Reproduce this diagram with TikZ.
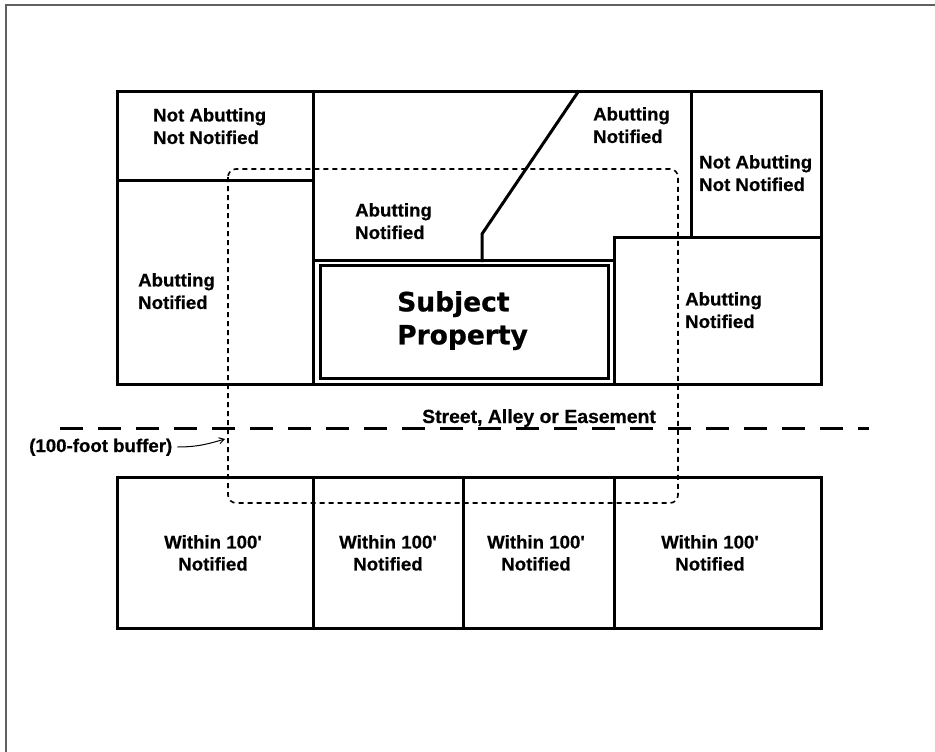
\documentclass[tikz,border=0pt]{standalone}
\usepackage{fontspec}
\usetikzlibrary{arrows.meta}
\newfontfamily\lblfont[FakeStretch=1.02, FakeBold=0.6]{Liberation Sans}
\newfontfamily\subjfont[FakeBold=0.8]{DejaVu Sans}
\tikzset{
  lot/.style={line width=3pt, line cap=rect, line join=miter},
  buffer/.style={line width=1.6pt, dash pattern=on 5pt off 4pt, rounded corners=8pt},
  street/.style={line width=3pt, dash pattern=on 23pt off 15pt},
  frameline/.style={line width=2pt, draw=black!62},
  lbl/.style={inner sep=0pt, anchor=north west, align=left,
    font=\lblfont\bfseries\fontsize{18.3}{22.5}\selectfont},
  lblc/.style={inner sep=0pt, anchor=north, align=center,
    font=\lblfont\bfseries\fontsize{18.3}{22}\selectfont},
  subj/.style={inner sep=0pt, anchor=north west, align=left,
    font=\subjfont\bfseries\fontsize{26.5}{33}\selectfont}
}
\begin{document}
\begin{tikzpicture}[x=1pt, y=-1pt]
\useasboundingbox (0,0) rectangle (935,752);
\fill[white] (0,0) rectangle (935,752);
% frame (only top and left edges visible)
\draw[frameline] (6,752) -- (6,5) -- (935,5);

% top block of lots
\draw[lot] (117,92) rectangle (821,384);
\draw[lot] (313,92) -- (313,384);
\draw[lot] (117,180) -- (313,180);
\draw[lot] (313,260.5) -- (614.5,260.5);
\draw[lot] (614.5,237) -- (614.5,384);
\draw[lot] (614.5,237) -- (821,237);
\draw[lot] (691,92) -- (691,237);
\draw[lot, line join=round] (578,92) -- (482,234) -- (482,260.5);
% subject property inner border
\draw[lot] (320,265.5) rectangle (608.5,378);

% bottom block of lots
\draw[lot] (117,477.5) rectangle (821,628);
\draw[lot] (313,477.5) -- (313,628);
\draw[lot] (463,477.5) -- (463,628);
\draw[lot] (614,477.5) -- (614,628);

% street line
\draw[street] (60,428) -- (869,428);

% 100-foot buffer
\draw[buffer] (228,169) rectangle (678,503);
\coordinate (bufL) at (225,439);

% labels
\node[lbl] (tl) at (153,108) {Not Abutting\\Not Notified};
\node[lbl] (tm) at (355,203) {Abutting\\Notified};
\node[lbl] (lf) at (138,273) {Abutting\\Notified};
\node[lbl] (tr) at (593,107) {Abutting\\Notified};
\node[lbl] (rn) at (699,155) {Not Abutting\\Not Notified};
\node[lbl] (ra) at (685,292) {Abutting\\Notified};
\node[subj] (sp) at (397,291) {Subject\\Property};

\node[lblc] (b1) at (213,535) {Within 100'\\Notified};
\node[lblc] (b2) at (388,535) {Within 100'\\Notified};
\node[lblc] (b3) at (536,535) {Within 100'\\Notified};
\node[lblc] (b4) at (710,535) {Within 100'\\Notified};

\node[inner sep=0pt, anchor=base west, font=\lblfont\bfseries\fontsize{19}{22}\selectfont] (st) at (422,423) {Street, Alley or Easement};
\node[inner sep=0pt, anchor=base west, font=\lblfont\bfseries\fontsize{18.3}{22}\selectfont] (bl) at (29,452) {(100-foot buffer)};

\draw[line width=1pt, -{Straight Barb[length=5pt,width=6pt]}] ([xshift=5pt,yshift=5pt]bl.base east) .. controls +(22,0) and +(-14,4) .. (bufL);
\end{tikzpicture}
\end{document}
